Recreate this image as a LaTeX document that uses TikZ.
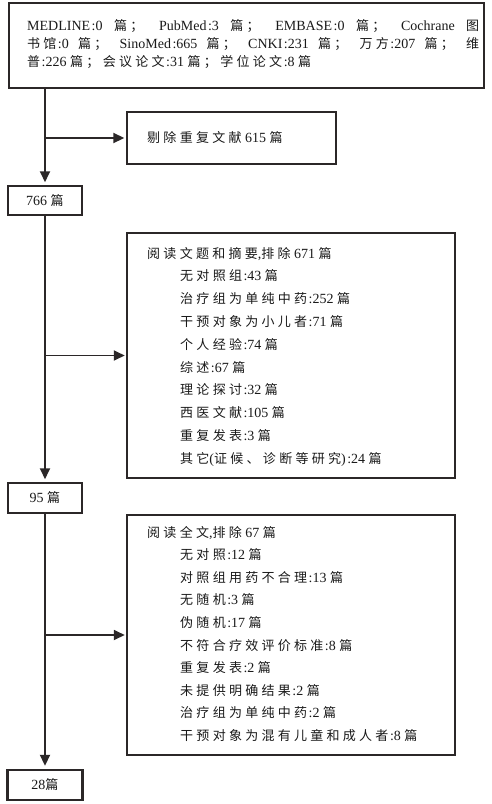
\documentclass[tikz,border=0pt]{standalone}
\usepackage{fontspec}
\setmainfont{Liberation Serif}
\newfontfamily\cjk{Noto Sans CJK SC}[LetterSpace=25,Scale=0.93]
\newcommand\zh[1]{{\cjk #1}}
\newcommand\cl{\kern1.5pt:}
\newcommand\ks{\hskip 3.5pt plus 1fil\relax}
\newcommand\kb{\hskip 3pt plus 1.6fil\relax}
\usetikzlibrary{arrows.meta}
\definecolor{ink}{HTML}{2B2728}
\definecolor{txt}{HTML}{1A1A1A}
\tikzset{
  thickbox/.style={draw=ink, line width=2.4pt, fill=white, inner sep=0pt},
  thinbox/.style={draw=ink, line width=1.5pt, fill=white, inner sep=0pt},
  conn/.style={draw=ink, line width=1.8pt, -{Triangle[length=11pt,width=10pt]}},
  txtline/.style={anchor=base west, inner sep=0pt, text=txt, font=\fontsize{14}{16}\selectfont},
}
\begin{document}
\begin{tikzpicture}[x=1pt,y=-1pt]
\useasboundingbox (0,0) rectangle (491,804);
\fill[white] (0,0) rectangle (491,804);

% top box
\node[thickbox, minimum width=475, minimum height=85] (top) at (246.5,45.5) {};
\node[txtline] (t1) at (27,30) {\hbox to 452pt{MEDLINE\cl 0\ks\zh{篇；}\kb PubMed\cl 3\ks\zh{篇；}\kb EMBASE\cl 0\ks\zh{篇；}\kb Cochrane\ks\zh{图}}};
\node[txtline] (t2) at (27,48) {\hbox to 452pt{\zh{书馆}\cl 0\ks\zh{篇；}\kb SinoMed\cl 665\ks\zh{篇；}\kb CNKI\cl 231\ks\zh{篇；}\kb\zh{万方}\cl 207\ks\zh{篇；}\kb\zh{维}}};
\node[txtline] (t3) at (27,66) {\zh{普}\cl 226 \zh{篇；} \zh{会议论文}\cl 31 \zh{篇；} \zh{学位论文}\cl 8 \zh{篇}};

% duplicate removal box
\node[thickbox, minimum width=209, minimum height=52] (dup) at (231.5,138) {};
\node[txtline] (dupt) at (147,142.5) {\zh{剔除重复文献} 615 \zh{篇}};

% count boxes
\node[thinbox, minimum width=74, minimum height=29, text=txt, font=\fontsize{14}{16}\selectfont] (n766) at (45,200.5) {766 \zh{篇}};
\node[thinbox, minimum width=74, minimum height=30, text=txt, font=\fontsize{14}{16}\selectfont] (n95) at (45,498) {95 \zh{篇}};
\node[thickbox, minimum width=75, minimum height=30, text=txt, font=\fontsize{14}{16}\selectfont] (n28) at (45,785) {28\zh{篇}};

% exclusion box 1
\node[thinbox, minimum width=328, minimum height=245] (ex1) at (291,355.5) {};
\node[txtline] (e1h) at (147,258) {\zh{阅读文题和摘要},\zh{排除} 671 \zh{篇}};
\foreach \t [count=\i] in {
  {\zh{无对照组}\cl 43 \zh{篇}},
  {\zh{治疗组为单纯中药}\cl 252 \zh{篇}},
  {\zh{干预对象为小儿者}\cl 71 \zh{篇}},
  {\zh{个人经验}\cl 74 \zh{篇}},
  {\zh{综述}\cl 67 \zh{篇}},
  {\zh{理论探讨}\cl 32 \zh{篇}},
  {\zh{西医文献}\cl 105 \zh{篇}},
  {\zh{重复发表}\cl 3 \zh{篇}},
  {\zh{其它}(\zh{证候、诊断等研究})\cl 24 \zh{篇}}}
  \node[txtline] (e1l\i) at (180,{258+22.8*\i}) {\t};

% exclusion box 2
\node[thinbox, minimum width=328, minimum height=240] (ex2) at (291,635) {};
\node[txtline] (e2h) at (147,537) {\zh{阅读全文},\zh{排除} 67 \zh{篇}};
\foreach \t [count=\i] in {
  {\zh{无对照}\cl 12 \zh{篇}},
  {\zh{对照组用药不合理}\cl 13 \zh{篇}},
  {\zh{无随机}\cl 3 \zh{篇}},
  {\zh{伪随机}\cl 17 \zh{篇}},
  {\zh{不符合疗效评价标准}\cl 8 \zh{篇}},
  {\zh{重复发表}\cl 2 \zh{篇}},
  {\zh{未提供明确结果}\cl 2 \zh{篇}},
  {\zh{治疗组为单纯中药}\cl 2 \zh{篇}},
  {\zh{干预对象为混有儿童和成人者}\cl 8 \zh{篇}}}
  \node[txtline] (e2l\i) at (180,{537+22.6*\i}) {\t};

% connectors
\draw[conn, shorten >=3pt] (top.south -| n766.north) -- (n766.north);
\draw[conn, shorten >=1.5pt] (dup.west -| n766.north) -- (dup.west);
\draw[conn, shorten >=3pt] (n766.south) -- (n95.north);
\draw[conn, shorten >=1.5pt] (ex1.west -| n766.south) -- (ex1.west);
\draw[conn, shorten >=3pt] (n95.south) -- (n28.north);
\draw[conn, shorten >=1.5pt] (ex2.west -| n95.south) -- (ex2.west);
\end{tikzpicture}
\end{document}
